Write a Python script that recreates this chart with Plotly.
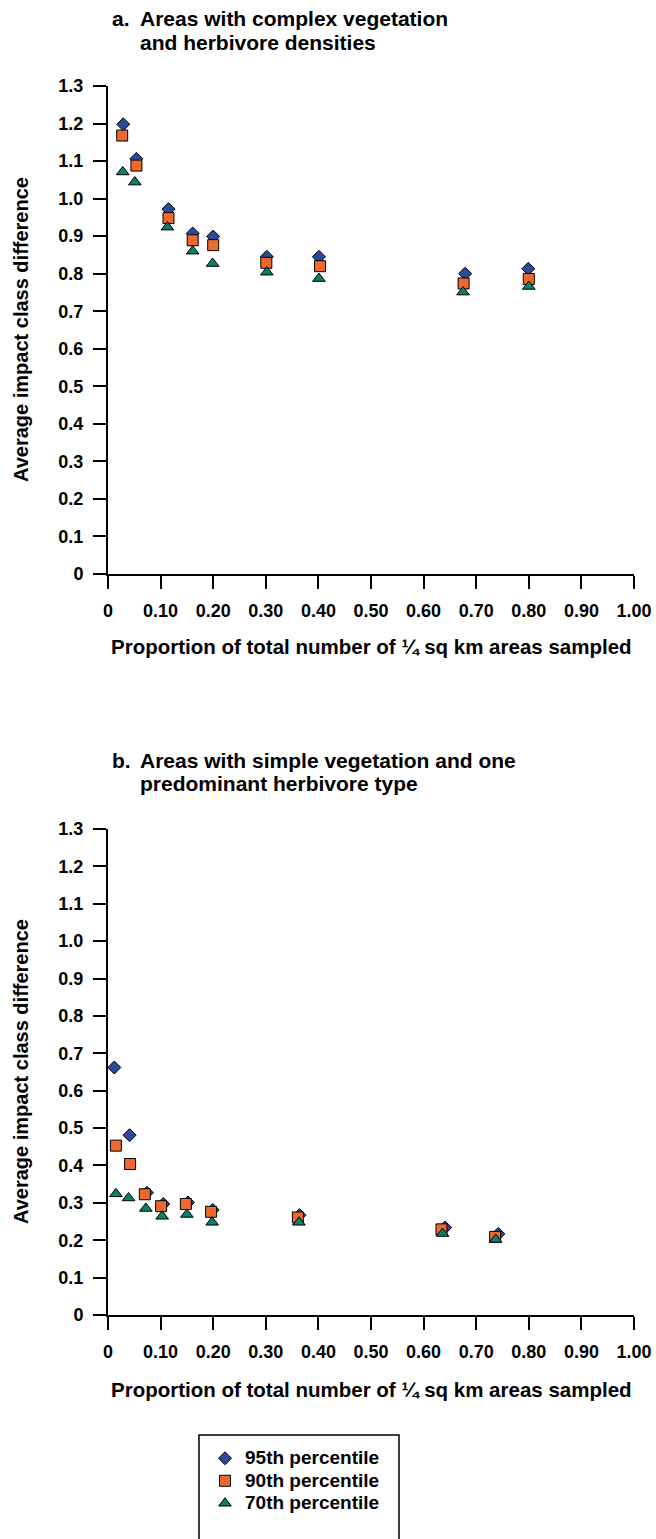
import plotly.graph_objects as go

W, H = 656, 1539

# ---------------- data ----------------
series_names = ["95th percentile", "90th percentile", "70th percentile"]

a_x95 = [0.029, 0.054, 0.115, 0.161, 0.200, 0.302, 0.401, 0.679, 0.799]
a_y95 = [1.198, 1.106, 0.972, 0.907, 0.899, 0.845, 0.845, 0.800, 0.813]
a_x90 = [0.027, 0.054, 0.115, 0.161, 0.200, 0.301, 0.403, 0.676, 0.800]
a_y90 = [1.168, 1.088, 0.948, 0.889, 0.876, 0.829, 0.820, 0.774, 0.786]
a_x70 = [0.028, 0.051, 0.113, 0.161, 0.199, 0.302, 0.401, 0.675, 0.800]
a_y70 = [1.071, 1.044, 0.924, 0.860, 0.827, 0.804, 0.787, 0.751, 0.766]

b_x95 = [0.012, 0.041, 0.074, 0.105, 0.152, 0.199, 0.364, 0.641, 0.742]
b_y95 = [0.662, 0.481, 0.327, 0.297, 0.301, 0.281, 0.267, 0.234, 0.217]
b_x90 = [0.015, 0.042, 0.070, 0.101, 0.148, 0.196, 0.361, 0.634, 0.736]
b_y90 = [0.453, 0.404, 0.323, 0.291, 0.297, 0.276, 0.261, 0.229, 0.209]
b_x70 = [0.015, 0.039, 0.072, 0.103, 0.150, 0.198, 0.363, 0.636, 0.737]
b_y70 = [0.324, 0.313, 0.285, 0.264, 0.269, 0.248, 0.248, 0.218, 0.202]

y_tickvals = [0, 0.1, 0.2, 0.3, 0.4, 0.5, 0.6, 0.7, 0.8, 0.9, 1.0, 1.1, 1.2, 1.3]
y_ticktext = ["0", "0.1", "0.2", "0.3", "0.4", "0.5", "0.6", "0.7", "0.8", "0.9",
              "1.0", "1.1", "1.2", "1.3"]
x_tickvals = [0, 0.1, 0.2, 0.3, 0.4, 0.5, 0.6, 0.7, 0.8, 0.9, 1.0]
x_ticktext = ["0", "0.10", "0.20", "0.30", "0.40", "0.50", "0.60", "0.70", "0.80",
              "0.90", "1.00"]

title_a = ["a.", "Areas with complex vegetation", "and herbivore densities"]
title_b = ["b.", "Areas with simple vegetation and one", "predominant herbivore type"]
x_title = "Proportion of total number of ¼ sq km areas sampled"
y_title = "Average impact class difference"

# ---------------- styles ----------------
FONT = "Liberation Sans, Arial, Helvetica, sans-serif"
colors = ["#2b4a9c", "#ee6a2c", "#0b7f6b"]
symbols = ["diamond", "square", "triangle-up"]
sizes = [10, 11, 11]


def px_x(p):
    return p / W


def px_y(p):
    return 1 - p / H


fig = go.Figure()

panels = [
    ("x", "y", [(a_x95, a_y95), (a_x90, a_y90), (a_x70, a_y70)], True),
    ("x2", "y2", [(b_x95, b_y95), (b_x90, b_y90), (b_x70, b_y70)], False),
]
for xa, ya, data, show in panels:
    for i, (xs, ys) in enumerate(data):
        fig.add_trace(go.Scatter(
            x=xs, y=ys, mode="markers",
            name='<span style="font-size:19px">%s</span>' % series_names[i],
            xaxis=xa, yaxis=ya, showlegend=show, cliponaxis=False,
            marker=dict(symbol=symbols[i], size=sizes[i], color=colors[i],
                        line=dict(color="black", width=1)),
        ))

axis_common = dict(
    showline=True, linecolor="black", linewidth=2,
    ticks="outside", ticklen=13, tickwidth=2, tickcolor="black",
    showgrid=False, zeroline=False, fixedrange=True, automargin=False,
    tickfont=dict(family=FONT, size=18, color="black", weight="bold"),
)

xdom = [px_x(108), px_x(634)]
fig.update_layout(
    width=W, height=H,
    margin=dict(l=0, r=0, t=0, b=0, pad=0, autoexpand=False),
    paper_bgcolor="white", plot_bgcolor="white",
    font=dict(family=FONT, color="black", weight="bold"),
    xaxis=dict(domain=xdom, range=[0, 1], anchor="y", tickvals=x_tickvals,
               ticktext=x_ticktext, ticklabelstandoff=6, **axis_common),
    yaxis=dict(domain=[px_y(574), px_y(86)], range=[0, 1.3], anchor="x",
               tickvals=y_tickvals, ticktext=y_ticktext, ticklabelstandoff=6,
               **axis_common),
    xaxis2=dict(domain=xdom, range=[0, 1], anchor="y2", tickvals=x_tickvals,
                ticktext=x_ticktext, ticklabelstandoff=6, **axis_common),
    yaxis2=dict(domain=[px_y(1315), px_y(829)], range=[0, 1.3], anchor="x2",
                tickvals=y_tickvals, ticktext=y_ticktext, ticklabelstandoff=6,
                **axis_common),
    legend=dict(x=px_x(205), y=px_y(1442), xanchor="left", yanchor="top",
                bgcolor="rgba(0,0,0,0)", borderwidth=0,
                font=dict(family=FONT, size=15, color="black", weight="bold")),
    showlegend=True,
)

# legend frame (runs off the bottom of the page, as in the original)
fig.add_shape(type="rect", xref="paper", yref="paper",
              x0=px_x(199), x1=px_x(399), y0=px_y(1435), y1=px_y(1560),
              line=dict(color="black", width=1.5))

ann = []


def text(x, y, s, size=21, xanchor="left", angle=0):
    ann.append(dict(x=px_x(x), y=px_y(y), xref="paper", yref="paper", text=s,
                    showarrow=False, xanchor=xanchor, yanchor="middle",
                    textangle=angle,
                    font=dict(family=FONT, size=size, color="black", weight="bold")))


text(110, 18, title_a[0])
text(138, 18, title_a[1])
text(138, 42, title_a[2])
text(110, 760, title_b[0])
text(138, 760, title_b[1])
text(138, 783, title_b[2])
text(372, 646, x_title, size=20.5, xanchor="center")
text(372, 1389, x_title, size=20.5, xanchor="center")
text(21, 330, y_title, size=20, xanchor="center", angle=-90)
text(21, 1072, y_title, size=20, xanchor="center", angle=-90)

fig.update_layout(annotations=ann)

fig.write_html("out.html")
